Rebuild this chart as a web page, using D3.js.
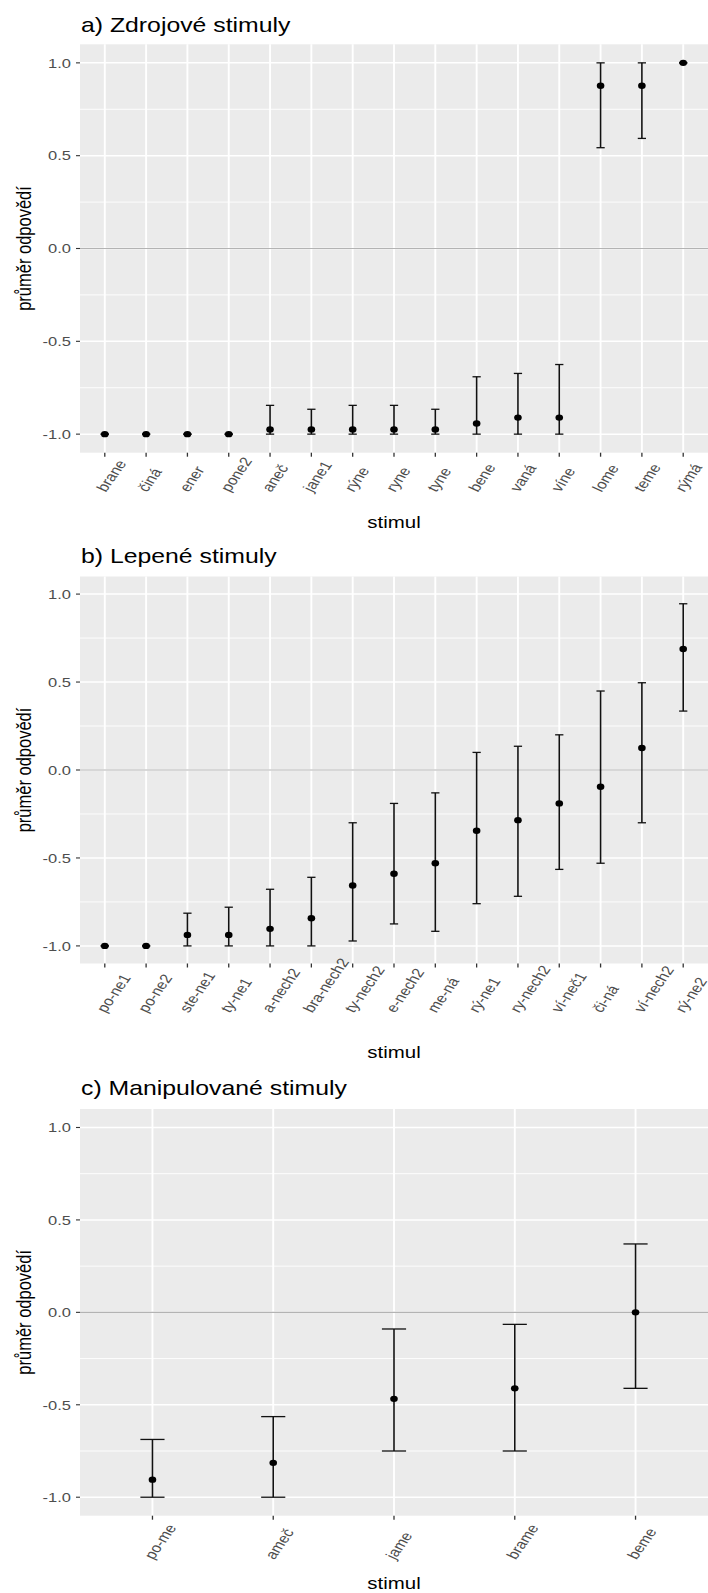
<!DOCTYPE html>
<html>
<head>
<meta charset="utf-8">
<script src="https://cdn.jsdelivr.net/npm/d3@7"></script>
<style>
  html, body { margin: 0; padding: 0; background: #ffffff; }
  svg { display: block; font-family: "Liberation Sans", Arial, sans-serif; }
</style>
</head>
<body>
<svg id="chart" width="708" height="1593"></svg>
<script>
// ---- a) Zdrojové stimuly ----
const catsA = ["brane", "činá", "ener", "pone2", "aneč", "jane1", "rýne", "ryne", "tyne", "bene", "vaná", "víne", "lome", "teme", "rýmá"];
const meanA = [-1, -1, -1, -1, -0.975, -0.975, -0.975, -0.975, -0.975, -0.943, -0.911, -0.911, 0.877, 0.877, 1];
const lowA  = [-1, -1, -1, -1, -1, -1, -1, -1, -1, -1, -1, -1, 0.543, 0.593, 1];
const highA = [-1, -1, -1, -1, -0.845, -0.866, -0.845, -0.845, -0.866, -0.691, -0.673, -0.625, 1, 1, 1];

// ---- b) Lepené stimuly ----
const catsB = ["po-ne1", "po-ne2", "ste-ne1", "ty-ne1", "a-nech2", "bra-nech2", "ty-nech2", "e-nech2", "me-ná", "rý-ne1", "ry-nech2", "ví-neč1", "či-ná", "ví-nech2", "rý-ne2"];
const meanB = [-1, -1, -0.9375, -0.9375, -0.903, -0.843, -0.657, -0.59, -0.53, -0.345, -0.285, -0.19, -0.095, 0.125, 0.6875];
const lowB  = [-1, -1, -1, -1, -1, -1, -0.972, -0.875, -0.917, -0.76, -0.718, -0.565, -0.53, -0.30, 0.335];
const highB = [-1, -1, -0.814, -0.78, -0.678, -0.61, -0.30, -0.19, -0.13, 0.10, 0.135, 0.20, 0.449, 0.496, 0.945];

// ---- c) Manipulované stimuly ----
const catsC = ["po-me", "ameč", "jame", "brame", "beme"];
const meanC = [-0.905, -0.814, -0.468, -0.411, 0];
const lowC  = [-1, -1, -0.75, -0.75, -0.411];
const highC = [-0.6875, -0.564, -0.09, -0.065, 0.37];

const yTicks = [-1, -0.5, 0, 0.5, 1];
const yTickLabels = ["-1.0", "-0.5", "0.0", "0.5", "1.0"];
const yMinor = [-0.75, -0.25, 0.25, 0.75];
const titles = ["a) Zdrojové stimuly", "b) Lepené stimuly", "c) Manipulované stimuly"];
const xTitle = "stimul";
const yTitle = "průměr odpovědí";

// Glyphs in this figure are drawn wider than tall
const SX = 1.24;

const svg = d3.select("#chart");

const panels = [
  { cats: catsA, mean: meanA, low: lowA, high: highA, title: titles[0],
    titleY: 31.7, top: 44.3, bottom: 452.7, labelDrop: 40, xTitleY: 527.5 },
  { cats: catsB, mean: meanB, low: lowB, high: highB, title: titles[1],
    titleY: 563.3, top: 576.5, bottom: 963.5, labelDrop: 50, xTitleY: 1058 },
  { cats: catsC, mean: meanC, low: lowC, high: highC, title: titles[2],
    titleY: 1095, top: 1109, bottom: 1515.7, labelDrop: 44.5, xTitleY: 1589 }
];

const left = 80, right = 708;

panels.forEach(p => {
  const g = svg.append("g");
  const x = d3.scalePoint().domain(p.cats).range([left, right]).padding(0.6);
  const y = d3.scaleLinear().domain([-1.1, 1.1]).range([p.bottom, p.top]);
  const step = x.step();

  // panel background
  g.append("rect")
    .attr("x", left).attr("y", p.top)
    .attr("width", right - left).attr("height", p.bottom - p.top)
    .attr("fill", "#EBEBEB");

  // minor horizontal grid
  g.selectAll(".minor").data(yMinor).join("line")
    .attr("x1", left).attr("x2", right)
    .attr("y1", d => y(d)).attr("y2", d => y(d))
    .attr("stroke", "#ffffff").attr("stroke-width", 0.9);

  // major horizontal grid
  g.selectAll(".major").data(yTicks).join("line")
    .attr("x1", left).attr("x2", right)
    .attr("y1", d => y(d)).attr("y2", d => y(d))
    .attr("stroke", "#ffffff").attr("stroke-width", 1.5);

  // vertical grid at each category
  g.selectAll(".vgrid").data(p.cats).join("line")
    .attr("x1", d => x(d)).attr("x2", d => x(d))
    .attr("y1", p.top).attr("y2", p.bottom)
    .attr("stroke", "#ffffff").attr("stroke-width", 1.9);

  // reference line at zero
  g.append("line")
    .attr("x1", left).attr("x2", right)
    .attr("y1", y(0)).attr("y2", y(0))
    .attr("stroke", "#B3B3B3").attr("stroke-width", 1.2);

  // y axis ticks and labels
  const yAxis = g.append("g");
  yAxis.selectAll("line").data(yTicks).join("line")
    .attr("x1", left - 4).attr("x2", left)
    .attr("y1", d => y(d)).attr("y2", d => y(d))
    .attr("stroke", "#333333").attr("stroke-width", 1.1);
  yAxis.selectAll("text").data(yTicks).join("text")
    .attr("transform", d => `translate(${left - 9},${y(d)}) scale(${SX},1)`)
    .attr("dy", "0.36em")
    .attr("text-anchor", "end")
    .attr("font-size", 13.3)
    .attr("fill", "#4D4D4D")
    .text((d, i) => yTickLabels[i]);

  // x axis ticks and rotated labels
  const xAxis = g.append("g");
  xAxis.selectAll("line").data(p.cats).join("line")
    .attr("x1", d => x(d)).attr("x2", d => x(d))
    .attr("y1", p.bottom).attr("y2", p.bottom + 4)
    .attr("stroke", "#333333").attr("stroke-width", 1.3);
  xAxis.selectAll("text").data(p.cats).join("text")
    .attr("transform", d => `translate(${x(d) + 1},${p.bottom + p.labelDrop}) scale(${SX},1) rotate(-60)`)
    .attr("text-anchor", "start")
    .attr("font-size", 13.3)
    .attr("fill", "#4D4D4D")
    .text(d => d);

  // rows of the summary table
  const rows = p.cats.map((c, i) => ({ c, m: p.mean[i], lo: p.low[i], hi: p.high[i] }));
  const capHalf = step * 0.1;

  // error bars
  const eb = g.append("g");
  eb.selectAll(".stem").data(rows).join("line")
    .attr("x1", d => x(d.c)).attr("x2", d => x(d.c))
    .attr("y1", d => y(d.lo)).attr("y2", d => y(d.hi))
    .attr("stroke", "#111111").attr("stroke-width", 1.6);
  eb.selectAll(".capHi").data(rows).join("line")
    .attr("x1", d => x(d.c) - capHalf).attr("x2", d => x(d.c) + capHalf)
    .attr("y1", d => y(d.hi)).attr("y2", d => y(d.hi))
    .attr("stroke", "#111111").attr("stroke-width", 1.3);
  eb.selectAll(".capLo").data(rows).join("line")
    .attr("x1", d => x(d.c) - capHalf).attr("x2", d => x(d.c) + capHalf)
    .attr("y1", d => y(d.lo)).attr("y2", d => y(d.lo))
    .attr("stroke", "#111111").attr("stroke-width", 1.3);

  // means
  g.selectAll(".pt").data(rows).join("ellipse")
    .attr("cx", d => x(d.c)).attr("cy", d => y(d.m))
    .attr("rx", 3.8).attr("ry", 3.2)
    .attr("fill", "#000000");

  // titles
  g.append("text")
    .attr("transform", `translate(81,${p.titleY}) scale(${SX},1)`)
    .attr("font-size", 20)
    .attr("fill", "#000000")
    .text(p.title);

  g.append("text")
    .attr("transform", `translate(${(left + right) / 2},${p.xTitleY}) scale(${SX},1)`)
    .attr("text-anchor", "middle")
    .attr("font-size", 16.5)
    .attr("fill", "#000000")
    .text(xTitle);

  g.append("text")
    .attr("transform", `translate(31,${(p.top + p.bottom) / 2}) scale(${SX},1) rotate(-90)`)
    .attr("text-anchor", "middle")
    .attr("font-size", 16.5)
    .attr("fill", "#000000")
    .text(yTitle);
});
</script>
</body>
</html>
